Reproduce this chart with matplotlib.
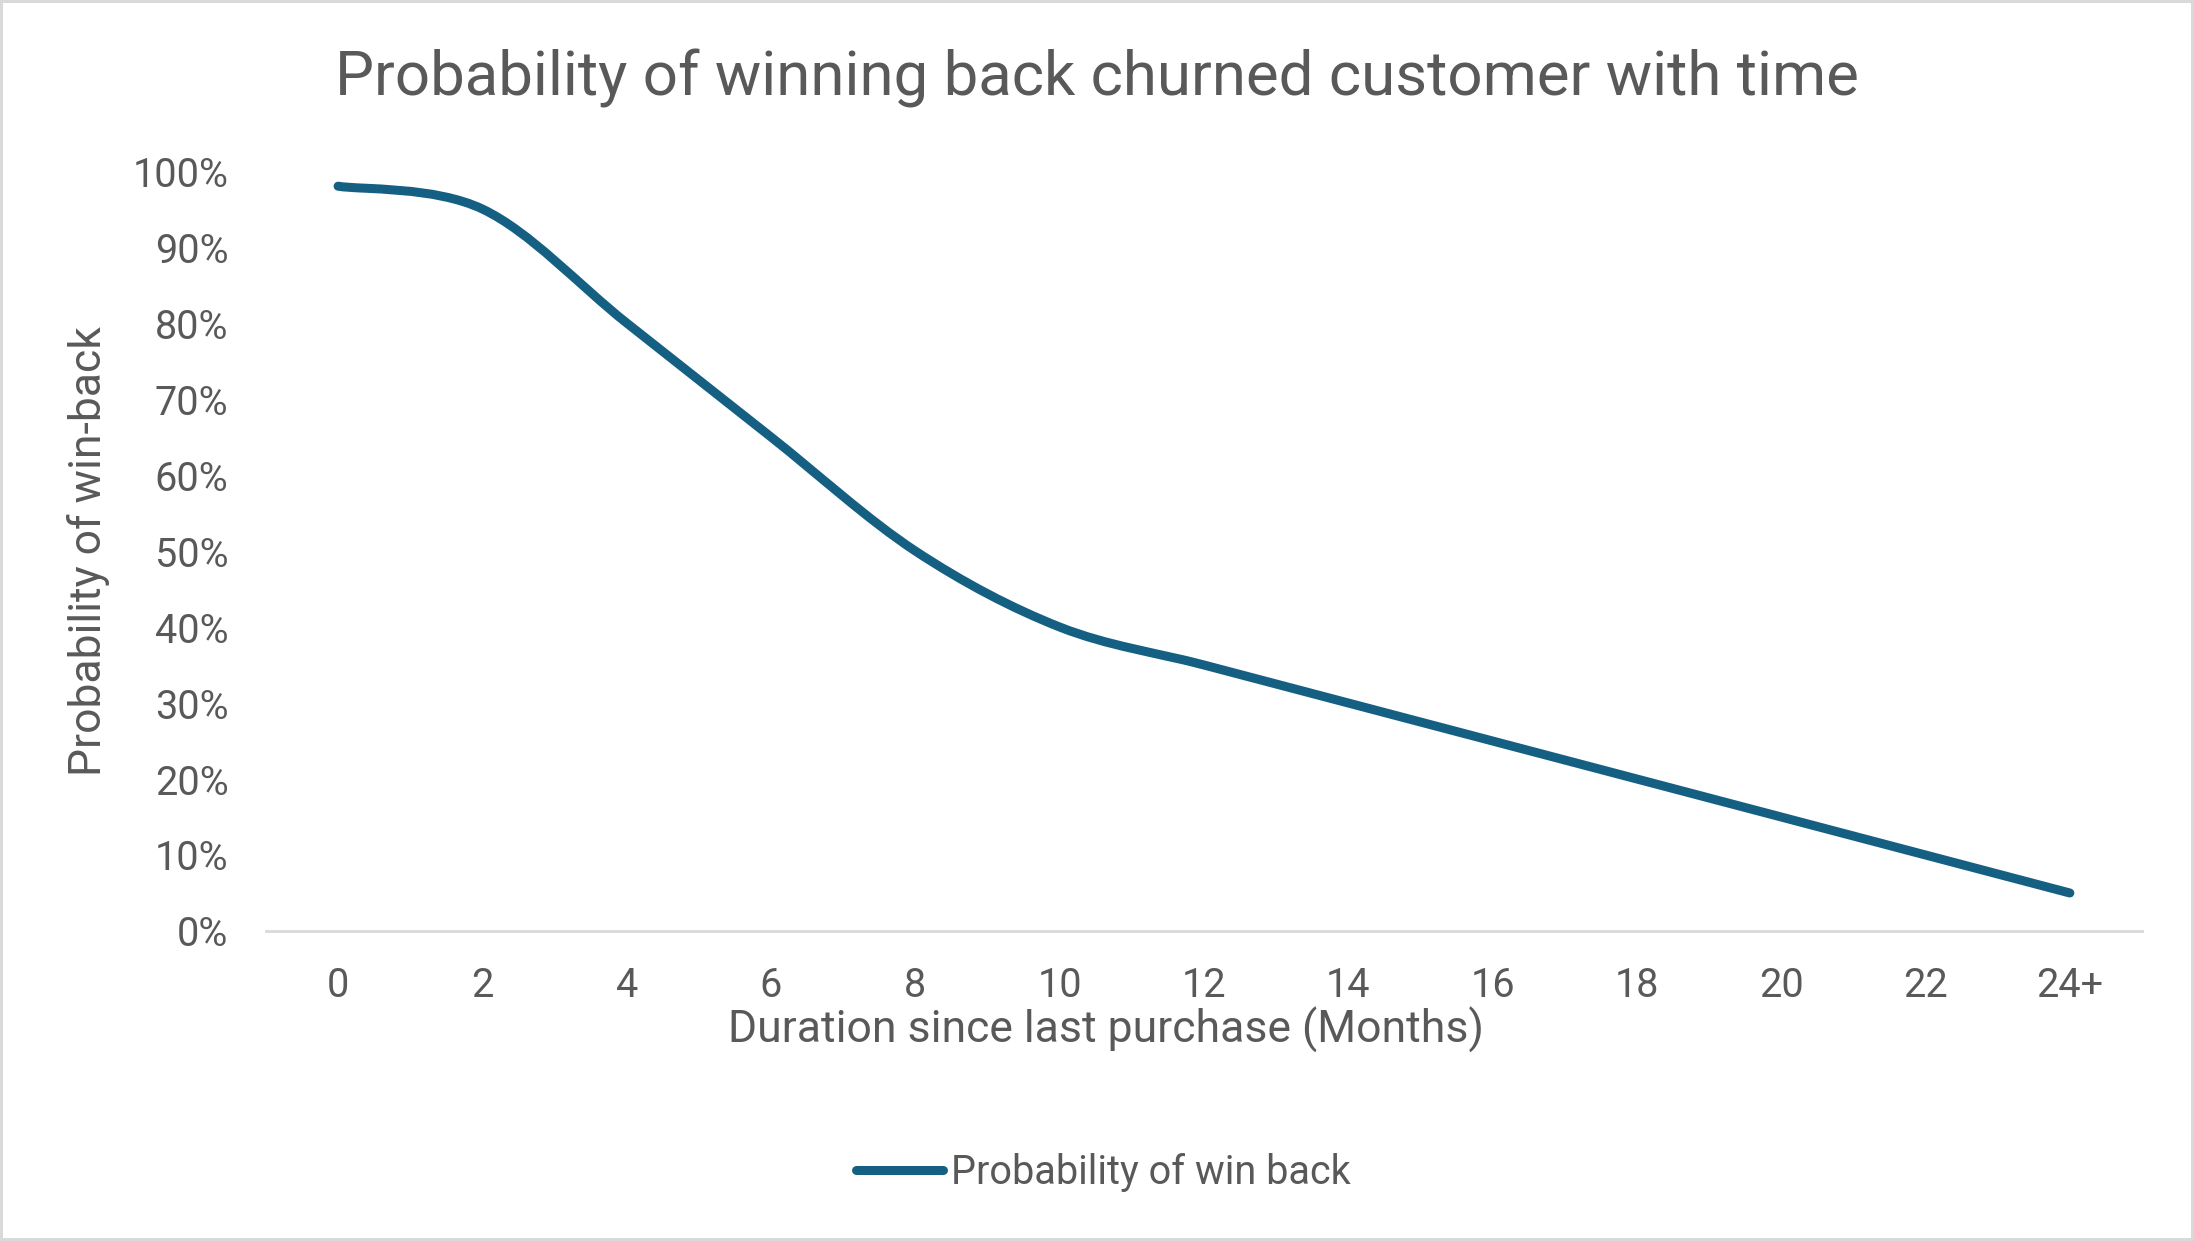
import matplotlib
matplotlib.use("Agg")
import matplotlib.pyplot as plt
from matplotlib.path import Path
from matplotlib.patches import PathPatch
from matplotlib.lines import Line2D
from matplotlib.ticker import PercentFormatter

plt.rcParams['font.family'] = ['Roboto', 'DejaVu Sans']

months = ['0', '2', '4', '6', '8', '10', '12', '14', '16', '18', '20', '22', '24+']
win_back = [0.98, 0.95, 0.80, 0.65, 0.50, 0.40, 0.35, 0.30, 0.25, 0.20, 0.15, 0.10, 0.05]

text_col = '#595959'
line_col = '#156082'
axis_col = '#d9d9d9'

fig = plt.figure(figsize=(21.94, 12.41), dpi=100)
fig.patch.set_edgecolor(axis_col)
fig.patch.set_linewidth(4)
ax = fig.add_axes([0.1212, 0.2498, 0.8551, 0.6124])

# excel style smoothed line: cubic bezier through the points
xs = list(range(len(win_back)))
pts = list(zip(xs, win_back))
verts = [pts[0]]
codes = [Path.MOVETO]
n = len(pts)
for i in range(n - 1):
    p0 = pts[max(i - 1, 0)]
    p1 = pts[i]
    p2 = pts[i + 1]
    p3 = pts[min(i + 2, n - 1)]
    c1 = (p1[0] + (p2[0] - p0[0]) / 6, p1[1] + (p2[1] - p0[1]) / 6)
    c2 = (p2[0] - (p3[0] - p1[0]) / 6, p2[1] - (p3[1] - p1[1]) / 6)
    verts += [c1, c2, p2]
    codes += [Path.CURVE4] * 3
ax.add_patch(PathPatch(Path(verts, codes), fill=False, edgecolor=line_col,
                       linewidth=6.5, capstyle='round', joinstyle='round'))

ax.set_xlim(-0.5, len(months) - 0.5)
ax.set_ylim(0, 1)
ax.set_xticks(xs)
ax.set_xticklabels(months)
ax.set_yticks([i / 10 for i in range(11)])
ax.yaxis.set_major_formatter(PercentFormatter(1.0, decimals=0))
ax.tick_params(axis='both', length=0, labelsize=28.5, labelcolor=text_col)
ax.tick_params(axis='y', pad=27)
ax.tick_params(axis='x', pad=25)

for s in ['top', 'right', 'left']:
    ax.spines[s].set_visible(False)
ax.spines['bottom'].set_color(axis_col)
ax.spines['bottom'].set_linewidth(2)

ax.set_xlabel('Duration since last purchase (Months)', fontsize=32, color=text_col, labelpad=0)
ax.xaxis.set_label_coords(0.448, -0.1)
ax.set_ylabel('Probability of win-back', fontsize=32, color=text_col, labelpad=16)
fig.suptitle('Probability of winning back churned customer with time', fontsize=44.5,
             color=text_col, y=0.937, va='center')

handle = Line2D([0], [0], color=line_col, linewidth=6.5, solid_capstyle='round')
fig.legend([handle], ['Probability of win back'], loc='center', bbox_to_anchor=(0.503, 0.055),
           frameon=False, fontsize=28.5, labelcolor=text_col, handlelength=2.2, handletextpad=0.2)

fig.savefig('out.png', dpi=100, facecolor='white', edgecolor=fig.get_edgecolor())
